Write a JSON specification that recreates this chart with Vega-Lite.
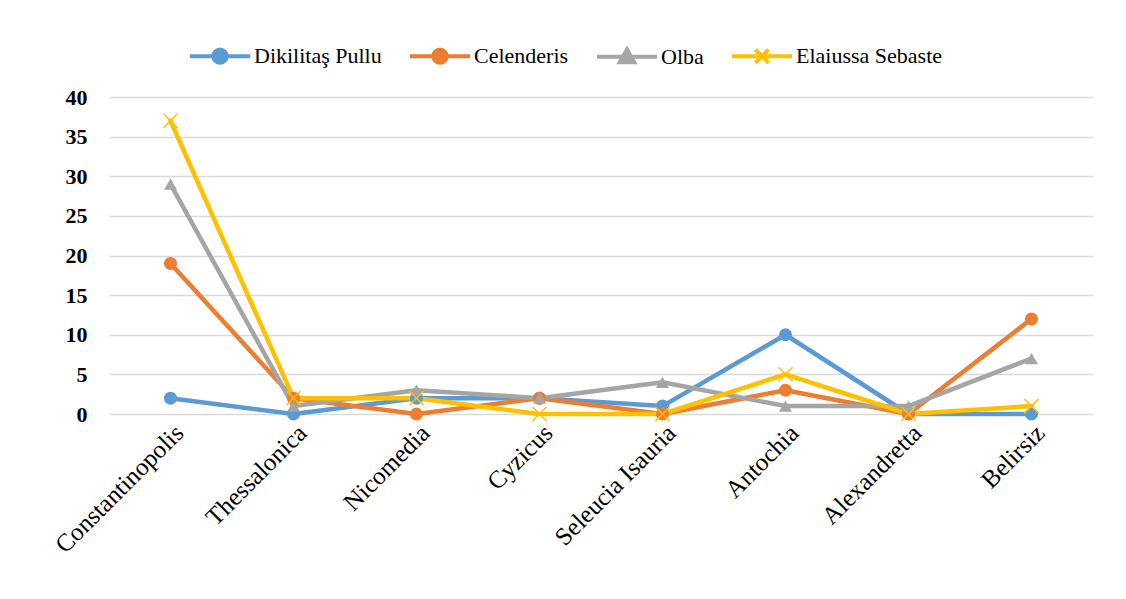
{
  "$schema": "https://vega.github.io/schema/vega-lite/v6.json",
  "autosize": "none",
  "padding": {"left": 109, "top": 97, "right": 33, "bottom": 185},
  "width": 984,
  "height": 317,
  "background": "white",
  "config": {
    "view": {"stroke": null},
    "font": "Liberation Serif",
    "legend": {"labelFont": "Liberation Serif", "labelFontSize": 22}
  },
  "data": {
    "values": [
      {"site": "Constantinopolis", "series": "Dikilitaş Pullu", "value": 2},
      {"site": "Thessalonica", "series": "Dikilitaş Pullu", "value": 0},
      {"site": "Nicomedia", "series": "Dikilitaş Pullu", "value": 2},
      {"site": "Cyzicus", "series": "Dikilitaş Pullu", "value": 2},
      {"site": "Seleucia Isauria", "series": "Dikilitaş Pullu", "value": 1},
      {"site": "Antochia", "series": "Dikilitaş Pullu", "value": 10},
      {"site": "Alexandretta", "series": "Dikilitaş Pullu", "value": 0},
      {"site": "Belirsiz", "series": "Dikilitaş Pullu", "value": 0},
      {"site": "Constantinopolis", "series": "Celenderis", "value": 19},
      {"site": "Thessalonica", "series": "Celenderis", "value": 2},
      {"site": "Nicomedia", "series": "Celenderis", "value": 0},
      {"site": "Cyzicus", "series": "Celenderis", "value": 2},
      {"site": "Seleucia Isauria", "series": "Celenderis", "value": 0},
      {"site": "Antochia", "series": "Celenderis", "value": 3},
      {"site": "Alexandretta", "series": "Celenderis", "value": 0},
      {"site": "Belirsiz", "series": "Celenderis", "value": 12},
      {"site": "Constantinopolis", "series": "Olba", "value": 29},
      {"site": "Thessalonica", "series": "Olba", "value": 1},
      {"site": "Nicomedia", "series": "Olba", "value": 3},
      {"site": "Cyzicus", "series": "Olba", "value": 2},
      {"site": "Seleucia Isauria", "series": "Olba", "value": 4},
      {"site": "Antochia", "series": "Olba", "value": 1},
      {"site": "Alexandretta", "series": "Olba", "value": 1},
      {"site": "Belirsiz", "series": "Olba", "value": 7},
      {"site": "Constantinopolis", "series": "Elaiussa Sebaste", "value": 37},
      {"site": "Thessalonica", "series": "Elaiussa Sebaste", "value": 2},
      {"site": "Nicomedia", "series": "Elaiussa Sebaste", "value": 2},
      {"site": "Cyzicus", "series": "Elaiussa Sebaste", "value": 0},
      {"site": "Seleucia Isauria", "series": "Elaiussa Sebaste", "value": 0},
      {"site": "Antochia", "series": "Elaiussa Sebaste", "value": 5},
      {"site": "Alexandretta", "series": "Elaiussa Sebaste", "value": 0},
      {"site": "Belirsiz", "series": "Elaiussa Sebaste", "value": 1}
    ]
  },
  "encoding": {
    "x": {
      "field": "site",
      "type": "nominal",
      "sort": null,
      "scale": {"type": "point", "padding": 0.5},
      "axis": {
        "title": null,
        "labelAngle": -45,
        "labelFontSize": 25,
        "labelColor": "#000",
        "labelPadding": 6,
        "ticks": false,
        "domain": false,
        "grid": false
      }
    },
    "y": {
      "field": "value",
      "type": "quantitative",
      "scale": {"domain": [0, 40], "nice": false},
      "axis": {
        "title": null,
        "values": [0, 5, 10, 15, 20, 25, 30, 35, 40],
        "labelFontSize": 22,
        "labelFontWeight": "bold",
        "labelColor": "#000",
        "labelPadding": 22,
        "ticks": false,
        "domain": false,
        "gridColor": "#d9d9d9",
        "gridWidth": 1.5
      }
    },
    "color": {
      "field": "series",
      "type": "nominal",
      "sort": ["Dikilitaş Pullu", "Celenderis", "Olba", "Elaiussa Sebaste"],
      "scale": {
        "domain": ["Dikilitaş Pullu", "Celenderis", "Olba", "Elaiussa Sebaste"],
        "range": ["#5B9BD5", "#ED7D31", "#A5A5A5", "#FFC000"]
      },
      "legend": {
        "title": null,
        "orient": "none",
        "direction": "horizontal",
        "legendX": 79,
        "legendY": -73,
        "symbolSize": 3600,
        "symbolStrokeWidth": 4,
        "labelFont": "Liberation Serif",
        "labelFontSize": 22,
        "labelColor": "#000",
        "labelOffset": 2,
        "columnPadding": 20,
        "encode": {
          "symbols": {
            "update": {
              "shape": {"signal": "datum.value === 'Olba' ? 'M-1,0L1,0M0,-0.24L0.24,0.18L-0.24,0.18Z' : (datum.value === 'Elaiussa Sebaste' ? 'M-1,0L1,0M-0.22,-0.22L0.22,0.22M-0.22,0.22L0.22,-0.22' : 'M-1,0L1,0M-0.22,0A0.22,0.22 0 1,1 0.22,0A0.22,0.22 0 1,1 -0.22,0Z')"},
              "size": {"value": 3600},
              "fill": {"scale": "color", "field": "value"},
              "stroke": {"scale": "color", "field": "value"},
              "strokeWidth": {"value": 4},
              "opacity": {"value": 1}
            }
          },
          "labels": {
            "update": {
              "font": {"value": "Liberation Serif"},
              "fontSize": {"value": 22},
              "fill": {"value": "#000"}
            }
          }
        }
      }
    }
  },
  "layer": [
    {
      "mark": {"type": "line", "strokeWidth": 4.5, "strokeCap": "round", "strokeJoin": "round"}
    },
    {
      "transform": [{"filter": "datum.series === 'Dikilitaş Pullu' || datum.series === 'Celenderis'"}],
      "mark": {"type": "point", "filled": true, "opacity": 1, "size": 170, "shape": "circle"}
    },
    {
      "transform": [{"filter": "datum.series === 'Olba'"}],
      "mark": {"type": "point", "filled": true, "opacity": 1, "size": 170, "shape": "triangle-up"}
    },
    {
      "transform": [{"filter": "datum.series === 'Elaiussa Sebaste'"}],
      "mark": {"type": "point", "filled": false, "opacity": 1, "size": 200, "strokeWidth": 1.5, "shape": "M-1,-1L1,1M-1,1L1,-1"}
    }
  ]
}
